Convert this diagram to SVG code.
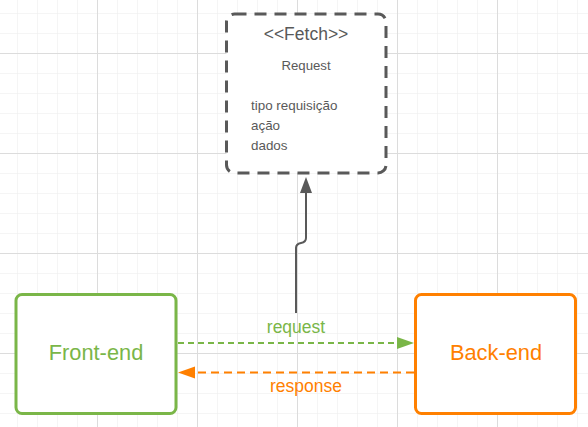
<svg xmlns="http://www.w3.org/2000/svg" width="588" height="427" viewBox="0 0 588 427">
<defs>
<pattern id="minor" x="17" y="13" width="20" height="20" patternUnits="userSpaceOnUse">
<path d="M0 0H20M0 0V20" fill="none" stroke="#ececec" stroke-width="1"/>
</pattern>
<pattern id="major" x="-3" y="-47" width="100" height="100" patternUnits="userSpaceOnUse">
<path d="M0 0.5H100M0.5 0V100" fill="none" stroke="#dcdcdc" stroke-width="1"/>
</pattern>
</defs>
<style>
text{font-family:"Liberation Sans",Arial,sans-serif}
.g{fill:#595959}
</style>
<rect width="588" height="427" fill="#ffffff"/>
<rect width="588" height="427" fill="url(#minor)"/>
<rect width="588" height="427" fill="url(#major)"/>
<g id="connectors">
<path d="M296 313V248Q296 244 301 243Q306 242 306 238V192" fill="none" stroke="#595959" stroke-width="2"/>
<path d="M306 177L312 193L300 193Z" fill="#595959"/>
<path d="M178 343H398" fill="none" stroke="#7ab648" stroke-width="2" stroke-dasharray="6 4"/>
<path d="M414 343L397 337L397 349Z" fill="#7ab648"/>
<path d="M414 372.5H195" fill="none" stroke="#ff8000" stroke-width="2" stroke-dasharray="8 5"/>
<path d="M178 372.5L195 366.5L195 378.5Z" fill="#ff8000"/>
<text x="296" y="333" font-size="17.5" fill="#7ab648" text-anchor="middle">request</text>
<text x="306" y="392" font-size="17.5" fill="#ff8000" text-anchor="middle">response</text>
</g>
<g id="fetch">
<rect x="226.5" y="14" width="159.5" height="159" rx="8" fill="#ffffff" stroke="#595959" stroke-width="3" stroke-dasharray="12 8"/>
<text x="306" y="40" font-size="17.5" class="g" text-anchor="middle">&lt;&lt;Fetch&gt;&gt;</text>
<text x="306" y="70" font-size="13.2" class="g" text-anchor="middle">Request</text>
<text x="251" y="110" font-size="13.4" class="g">tipo requisição</text>
<text x="251" y="130" font-size="13.4" class="g">ação</text>
<text x="251" y="150" font-size="13.4" class="g">dados</text>
</g>
<g id="frontend">
<rect x="16" y="294.5" width="160" height="119" rx="6" fill="#ffffff" stroke="#7ab648" stroke-width="3"/>
<text x="96" y="360" font-size="21.8" fill="#7ab648" text-anchor="middle">Front-end</text>
</g>
<g id="backend">
<rect x="415.5" y="294.5" width="160" height="119" rx="6" fill="#ffffff" stroke="#ff8000" stroke-width="3"/>
<text x="496" y="360" font-size="21.8" fill="#ff8000" text-anchor="middle">Back-end</text>
</g>
</svg>
